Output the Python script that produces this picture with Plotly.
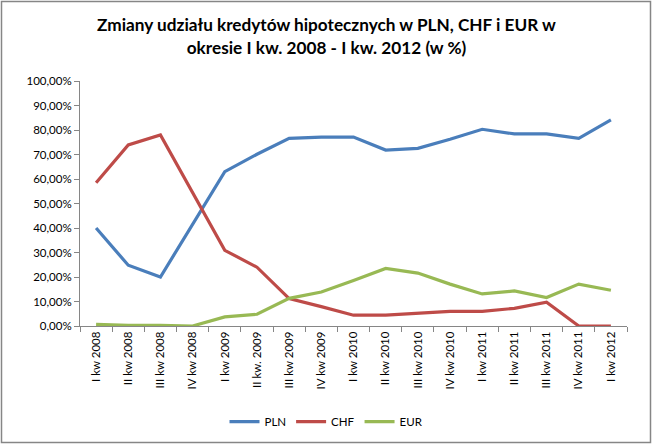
import plotly.graph_objects as go

# quarters shown on the x axis
quarters = [
    "I kw 2008", "II kw 2008", "III kw 2008", "IV kw 2008",
    "I kw 2009", "II kw. 2009", "III kw 2009", "IV kw 2009",
    "I kw 2010", "II kw 2010", "III kw 2010", "IV kw 2010",
    "I kw 2011", "II kw 2011", "III kw 2011", "IV kw 2011",
    "I kw 2012",
]

# share of mortgage loans (%)
pln = [40.0, 24.8, 20.0, 41.8, 63.0, 70.1, 76.6, 77.1, 77.1, 71.8, 72.5,
       76.2, 80.3, 78.4, 78.4, 76.6, 84.1]
chf = [58.5, 73.9, 78.0, 54.3, 30.9, 24.0, 11.2, 7.9, 4.4, 4.4, 5.2,
       6.0, 6.0, 7.2, 9.7, 0.0, 0.0]
eur = [0.7, 0.3, 0.3, 0.0, 3.7, 4.8, 11.3, 13.9, 18.6, 23.5, 21.6,
       17.1, 13.1, 14.3, 11.6, 17.1, 14.6]

y_ticks = list(range(0, 101, 10))
y_labels = [f"{v},00%" for v in y_ticks]

W, H = 653, 445
L, R, T, B = 80, 26, 81, 119
pw, ph = W - L - R, H - T - B

fig = go.Figure()
for name, vals, color in [("PLN", pln, "#4A7EBB"), ("CHF", chf, "#BE4B48"), ("EUR", eur, "#98B954")]:
    fig.add_trace(go.Scatter(x=quarters, y=vals, mode="lines", name=name,
                             line=dict(color=color, width=3.2)))

fig.update_layout(
    width=W, height=H,
    margin=dict(l=L, r=R, t=T, b=B, autoexpand=False),
    paper_bgcolor="white", plot_bgcolor="white",
    font=dict(family="Lato", size=11.5, color="black"),
    title=dict(
        text="<b>Zmiany udziału kredytów hipotecznych w PLN, CHF i EUR w<br>okresie I kw. 2008 - I kw. 2012 (w %)</b>",
        x=0.5, xref="container", xanchor="center", y=0.93, yanchor="middle",
        font=dict(family="Lato", size=17.2, color="black"),
    ),
    showlegend=True,
    legend=dict(orientation="h", xref="container", x=0.5, xanchor="center",
                y=-0.39, yanchor="middle",
                font=dict(size=11.5), itemwidth=30, traceorder="normal"),
    shapes=[dict(type="rect", xref="paper", yref="paper",
                 x0=-(L - 1.5) / pw, x1=1 + (R - 2.5) / pw,
                 y0=-(B - 2.5) / ph, y1=1 + (T - 1.5) / ph,
                 line=dict(color="#868686", width=1.5))],
)
fig.update_xaxes(
    range=[-0.5, 16.5], automargin=False,
    showgrid=False, showline=True, linecolor="#868686", linewidth=1,
    ticks="outside", ticklen=5, tickcolor="#868686", tickson="boundaries",
    tickangle=-90, tickfont=dict(size=11.5),
)
fig.update_yaxes(
    range=[0, 100], automargin=False, showgrid=False, zeroline=False,
    showline=True, linecolor="#868686", linewidth=1,
    ticks="outside", ticklen=5, tickcolor="#868686",
    tickvals=y_ticks, ticktext=y_labels, tickfont=dict(size=11.5),
)

# the page's default body margin would push the figure off the window
fig.write_html(
    "out.html",
    config={"displayModeBar": False},
    post_script="document.body.style.margin='0';document.body.style.overflow='hidden';",
)
